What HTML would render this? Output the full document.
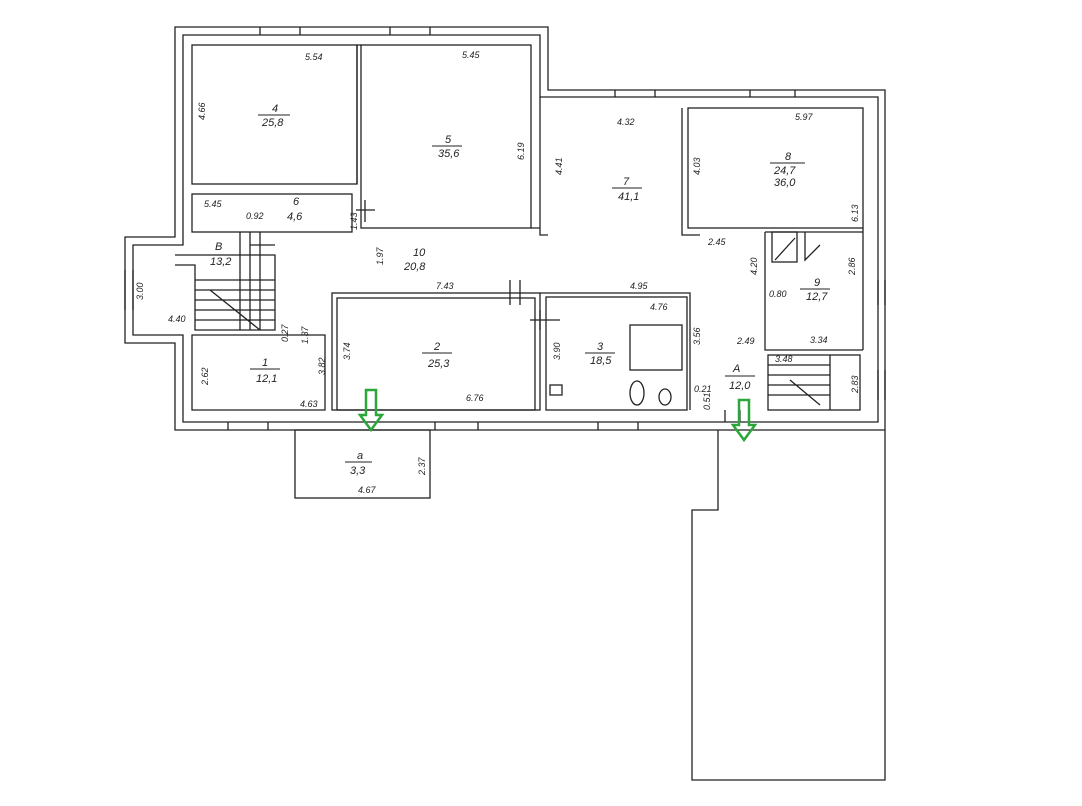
<!DOCTYPE html>
<html><head><meta charset="utf-8"><style>
html,body{margin:0;padding:0;background:#fff;}
svg{display:block;}
text{font-family:"Liberation Sans",sans-serif;font-style:italic;fill:#222;}
.s{font-size:9px;}
.m{font-size:11px;}
</style></head><body>
<svg width="1082" height="806" viewBox="0 0 1082 806" xmlns="http://www.w3.org/2000/svg">
<g fill="none" stroke="#222" stroke-width="1.3">
<!-- outer walls outer line -->
<path d="M175,27 H548 V90 H885 V430 H175 V343 H125 V237 H175 Z"/>
<!-- inner line -->
<path d="M183,35 H540 V97 H878 V422 H183 V335 H133 V245 H183 Z"/>
<!-- extension bottom right -->
<path d="M885,430 V780 H692 V510 H718 V430"/>
<!-- porch -->
<rect x="295" y="430" width="135" height="68"/>
<!-- room 4 -->
<rect x="192" y="45" width="165" height="139"/>
<!-- room 5 -->
<rect x="361" y="45" width="170" height="183"/>
<path d="M357,45 V184 M356,45 H362"/>
<!-- room 6 -->
<rect x="192" y="194" width="160" height="38"/>
<path d="M540,97 V235 H548 M531,228 H540"/>
<!-- room 7 right wall / 8 -->
<rect x="688" y="108" width="175" height="120"/>
<path d="M682,108 V235 H700 M863,228 V350"/>
<!-- room 2 double -->
<rect x="332" y="293" width="208" height="117"/>
<rect x="337" y="298" width="198" height="112"/>
<!-- room 3 -->
<rect x="546" y="297" width="141" height="113"/>
<rect x="630" y="325" width="52" height="45"/>
<path d="M540,293 H690 V410"/>
<!-- room 1 -->
<path d="M192,335 H325 V410 H192 Z"/>
<!-- room 9 -->
<path d="M765,232 H863 M765,232 V350 H863"/>
<!-- stair bottom right -->
<rect x="768" y="355" width="92" height="55"/>
<path d="M768,365 H830 M768,375 H830 M768,385 H830 M768,395 H830 M830,355 V410 M790,380 L820,405"/>
<!-- stair left -->
<path d="M175,255 H275 V330 H195 V265 H175 M195,280 H275 M195,290 H275 M195,300 H275 M195,310 H275 M195,320 H275 M240,232 V330 M250,232 V330 M260,232 V330 M250,245 H275 M250,255 H275 M210,290 L260,330"/>
<!-- kitchen stuff -->
<rect x="772" y="232" width="25" height="30"/>
<path d="M775,260 L795,238 M805,232 V260 L820,245"/>
<!-- misc marks -->
<path d="M510,280 V305 M520,280 V305 M356,210 H375 M365,200 V222 M530,320 H560 M540,310 V330 M725,410 V422 M740,410 V422"/>
<rect x="550" y="385" width="12" height="10"/>
<ellipse cx="637" cy="393" rx="7" ry="12"/>
<ellipse cx="665" cy="397" rx="6" ry="8"/>
<!-- windows -->
<path d="M260,27 V35 M300,27 V35 M390,27 V35 M430,27 V35 M615,90 V97 M655,90 V97 M750,90 V97 M795,90 V97 M228,422 V430 M268,422 V430 M435,422 V430 M478,422 V430 M598,422 V430 M638,422 V430 M125,270 V310 M133,270 V310 M878,280 V305 M885,280 V305 M878,370 V400 M885,370 V400"/>
</g>
<!-- green arrows -->
<g fill="none" stroke="#2aa63a" stroke-width="2.5">
<path d="M366,390 V415 H360 L371,430 L382,415 H376 V390 Z"/>
<path d="M739,400 V425 H733 L744,440 L755,425 H749 V400 Z"/>
</g>
<!-- labels -->
<text class="m" x="272" y="112">4</text><line x1="258" y1="115" x2="290" y2="115" stroke="#222"/>
<text class="m" x="262" y="126">25,8</text>
<text class="s" x="305" y="60">5.54</text>
<text class="s" x="205" y="120" transform="rotate(-90 205 120)">4.66</text>
<text class="m" x="445" y="143">5</text><line x1="432" y1="146" x2="462" y2="146" stroke="#222"/>
<text class="m" x="438" y="157">35,6</text>
<text class="s" x="462" y="58">5.45</text>
<text class="s" x="524" y="160" transform="rotate(-90 524 160)">6.19</text>
<text class="m" x="293" y="205">6</text>
<text class="m" x="287" y="220">4,6</text>
<text class="s" x="204" y="207">5.45</text>
<text class="s" x="246" y="219">0.92</text>
<text class="s" x="357" y="230" transform="rotate(-90 357 230)">1.43</text>
<text class="m" x="623" y="185">7</text><line x1="612" y1="188" x2="642" y2="188" stroke="#222"/>
<text class="m" x="618" y="200">41,1</text>
<text class="s" x="617" y="125">4.32</text>
<text class="s" x="562" y="175" transform="rotate(-90 562 175)">4.41</text>
<text class="m" x="785" y="160">8</text><line x1="770" y1="163" x2="805" y2="163" stroke="#222"/>
<text class="m" x="774" y="174">24,7</text>
<text class="m" x="774" y="186">36,0</text>
<text class="s" x="795" y="120">5.97</text>
<text class="s" x="700" y="175" transform="rotate(-90 700 175)">4.03</text>
<text class="s" x="858" y="222" transform="rotate(-90 858 222)">6.13</text>
<text class="s" x="708" y="245">2.45</text>
<text class="m" x="413" y="256">10</text>
<text class="m" x="404" y="270">20,8</text>
<text class="s" x="383" y="265" transform="rotate(-90 383 265)">1.97</text>
<text class="m" x="215" y="250">B</text>
<text class="m" x="210" y="265">13,2</text>
<text class="s" x="143" y="300" transform="rotate(-90 143 300)">3.00</text>
<text class="s" x="168" y="322">4.40</text>
<text class="s" x="436" y="289">7.43</text>
<text class="s" x="630" y="289">4.95</text>
<text class="m" x="434" y="350">2</text><line x1="422" y1="353" x2="452" y2="353" stroke="#222"/>
<text class="m" x="428" y="367">25,3</text>
<text class="s" x="350" y="360" transform="rotate(-90 350 360)">3.74</text>
<text class="s" x="466" y="401">6.76</text>
<text class="m" x="597" y="350">3</text><line x1="585" y1="353" x2="615" y2="353" stroke="#222"/>
<text class="m" x="590" y="364">18,5</text>
<text class="s" x="650" y="310">4.76</text>
<text class="s" x="560" y="360" transform="rotate(-90 560 360)">3.90</text>
<text class="s" x="700" y="345" transform="rotate(-90 700 345)">3.56</text>
<text class="m" x="262" y="366">1</text><line x1="250" y1="369" x2="280" y2="369" stroke="#222"/>
<text class="m" x="256" y="382">12,1</text>
<text class="s" x="208" y="385" transform="rotate(-90 208 385)">2.62</text>
<text class="s" x="300" y="407">4.63</text>
<text class="s" x="325" y="375" transform="rotate(-90 325 375)">3.82</text>
<text class="s" x="308" y="344" transform="rotate(-90 308 344)">1.37</text>
<text class="s" x="288" y="342" transform="rotate(-90 288 342)">0.27</text>
<text class="m" x="814" y="286">9</text><line x1="800" y1="289" x2="830" y2="289" stroke="#222"/>
<text class="m" x="806" y="300">12,7</text>
<text class="s" x="757" y="275" transform="rotate(-90 757 275)">4.20</text>
<text class="s" x="769" y="297">0.80</text>
<text class="s" x="855" y="275" transform="rotate(-90 855 275)">2.86</text>
<text class="s" x="810" y="343">3.34</text>
<text class="s" x="775" y="362">3.48</text>
<text class="s" x="858" y="393" transform="rotate(-90 858 393)">2.83</text>
<text class="s" x="737" y="344">2.49</text>
<text class="m" x="733" y="372">A</text><line x1="725" y1="376" x2="755" y2="376" stroke="#222"/>
<text class="m" x="729" y="389">12,0</text>
<text class="s" x="694" y="392">0.21</text>
<text class="s" x="710" y="410" transform="rotate(-90 710 410)">0.51</text>
<text class="m" x="357" y="459">a</text><line x1="345" y1="462" x2="372" y2="462" stroke="#222"/>
<text class="m" x="350" y="474">3,3</text>
<text class="s" x="425" y="475" transform="rotate(-90 425 475)">2.37</text>
<text class="s" x="358" y="493">4.67</text>
</svg>
</body></html>
